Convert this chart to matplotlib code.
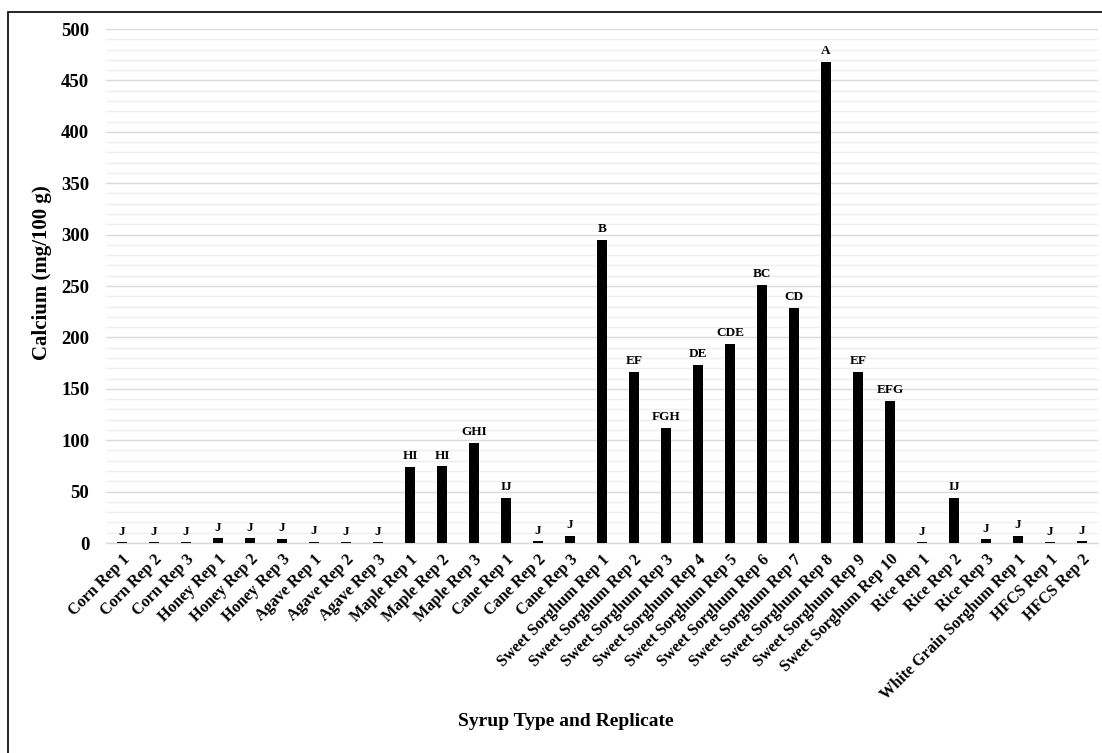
import matplotlib
matplotlib.use("Agg")
import matplotlib.pyplot as plt
from matplotlib.patches import Rectangle
from matplotlib.ticker import MultipleLocator

categories = ["Corn Rep 1", "Corn Rep 2", "Corn Rep 3",
              "Honey Rep 1", "Honey Rep 2", "Honey Rep 3",
              "Agave Rep 1", "Agave Rep 2", "Agave Rep 3",
              "Maple Rep 1", "Maple Rep 2", "Maple Rep 3",
              "Cane Rep 1", "Cane Rep 2", "Cane Rep 3",
              "Sweet Sorghum Rep 1", "Sweet Sorghum Rep 2", "Sweet Sorghum Rep 3",
              "Sweet Sorghum Rep 4", "Sweet Sorghum Rep 5", "Sweet Sorghum Rep 6",
              "Sweet Sorghum Rep 7", "Sweet Sorghum Rep 8", "Sweet Sorghum Rep 9",
              "Sweet Sorghum Rep 10",
              "Rice Rep 1", "Rice Rep 2", "Rice Rep 3",
              "White Grain Sorghum Rep 1",
              "HFCS Rep 1", "HFCS Rep 2"]
calcium = [0.5, 0.5, 0.5,
           4.5, 4.5, 4.0,
           1.0, 0.5, 0.5,
           74, 74.5, 97,
           44, 1.5, 6.5,
           295, 166, 112, 173, 194, 251, 229, 468, 166, 138,
           0.5, 44, 3.5,
           6.5,
           0.5, 1.5]
letters = ["J", "J", "J",
           "J", "J", "J",
           "J", "J", "J",
           "HI", "HI", "GHI",
           "IJ", "J", "J",
           "B", "EF", "FGH", "DE", "CDE", "BC", "CD", "A", "EF", "EFG",
           "J", "IJ", "J",
           "J",
           "J", "J"]

plt.rcParams['font.family'] = ['Liberation Serif', 'DejaVu Serif']
plt.rcParams['font.weight'] = 'bold'

fig = plt.figure(figsize=(11.02, 7.53), dpi=100)
ax = fig.add_axes([106/1102, 1 - 543/753, (1098 - 106)/1102, (543 - 29)/753])

x = list(range(len(categories)))
ax.bar(x, calcium, width=0.33, color='black', zorder=3)

for xi, v, lab in zip(x, calcium, letters):
    ax.annotate(lab, (xi, v), xytext=(0, 3.5), textcoords='offset points',
                ha='center', va='bottom', fontsize=9.5, fontweight='bold', zorder=4)

ax.set_xlim(-0.5, len(categories) - 0.5)
ax.set_ylim(0, 500)
ax.yaxis.set_major_locator(MultipleLocator(50))
ax.yaxis.set_minor_locator(MultipleLocator(10))
ax.grid(axis='y', which='major', color='#d9d9d9', linewidth=1.0, zorder=0)
ax.grid(axis='y', which='minor', color='#efefef', linewidth=1.0, zorder=0)
ax.set_axisbelow(True)

for s in ['top', 'right', 'left']:
    ax.spines[s].set_visible(False)
ax.spines['bottom'].set_color('#d9d9d9')
ax.spines['bottom'].set_linewidth(1.0)

ax.tick_params(axis='y', which='both', length=0, pad=12, labelsize=13.5)
ax.tick_params(axis='x', length=0, pad=6, labelsize=11.6)
for t in ax.get_yticklabels():
    t.set_fontweight('bold')

ax.set_xticks(x)
ax.set_xticklabels(categories, rotation=45, ha='right', rotation_mode='anchor',
                   fontweight='bold')

fig.text(42/1102, 1 - 273/753, "Calcium (mg/100 g)", rotation=90, ha='center',
         va='center', fontsize=15, fontweight='bold')
fig.text(566/1102, 1 - 722/753, "Syrup Type and Replicate", ha='center',
         va='center', fontsize=14, fontweight='bold')

fig.patches.append(Rectangle((8/1102, -0.1), 1.2, 1.1 - 12/753, transform=fig.transFigure,
                             fill=False, edgecolor='black', linewidth=1.2, figure=fig))

fig.savefig("out.png", dpi=100)
